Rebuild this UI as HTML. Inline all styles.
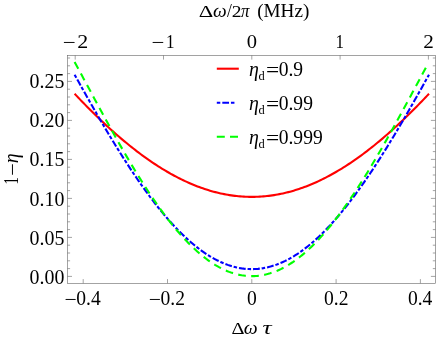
<!DOCTYPE html>
<html><head><meta charset="utf-8"><title>plot</title>
<style>
html,body{margin:0;padding:0;background:#fff;}
body{width:436px;height:339px;overflow:hidden;}
svg{display:block;will-change:transform;}
text{font-family:"Liberation Serif",serif;font-size:19.6px;fill:#000;}
.i{font-style:italic;}
</style></head><body>
<svg width="436" height="339" viewBox="0 0 436 339">
<rect width="436" height="339" fill="#fff"/>

<path d="M74.60,93.77 L76.38,95.65 L78.16,97.52 L79.94,99.38 L81.72,101.22 L83.50,103.06 L85.29,104.88 L87.07,106.68 L88.85,108.48 L90.63,110.26 L92.41,112.03 L94.19,113.78 L95.97,115.52 L97.75,117.25 L99.53,118.96 L101.31,120.66 L103.09,122.34 L104.88,124.01 L106.66,125.66 L108.44,127.30 L110.22,128.92 L112.00,130.53 L113.78,132.12 L115.56,133.70 L117.34,135.26 L119.12,136.80 L120.90,138.33 L122.68,139.84 L124.47,141.33 L126.25,142.81 L128.03,144.27 L129.81,145.71 L131.59,147.13 L133.37,148.54 L135.15,149.93 L136.93,151.30 L138.71,152.65 L140.49,153.99 L142.27,155.31 L144.06,156.61 L145.84,157.89 L147.62,159.15 L149.40,160.39 L151.18,161.61 L152.96,162.82 L154.74,164.00 L156.52,165.17 L158.30,166.32 L160.08,167.44 L161.86,168.55 L163.65,169.64 L165.43,170.71 L167.21,171.75 L168.99,172.78 L170.77,173.79 L172.55,174.77 L174.33,175.74 L176.11,176.69 L177.89,177.61 L179.67,178.52 L181.45,179.40 L183.24,180.26 L185.02,181.10 L186.80,181.92 L188.58,182.72 L190.36,183.50 L192.14,184.26 L193.92,184.99 L195.70,185.71 L197.48,186.40 L199.26,187.07 L201.04,187.72 L202.83,188.35 L204.61,188.95 L206.39,189.53 L208.17,190.10 L209.95,190.64 L211.73,191.15 L213.51,191.65 L215.29,192.12 L217.07,192.57 L218.85,193.00 L220.63,193.41 L222.42,193.79 L224.20,194.15 L225.98,194.49 L227.76,194.81 L229.54,195.10 L231.32,195.37 L233.10,195.62 L234.88,195.85 L236.66,196.05 L238.44,196.23 L240.22,196.39 L242.01,196.53 L243.79,196.64 L245.57,196.73 L247.35,196.80 L249.13,196.85 L250.91,196.87 L252.69,196.87 L254.47,196.85 L256.25,196.80 L258.03,196.73 L259.81,196.64 L261.59,196.53 L263.38,196.39 L265.16,196.23 L266.94,196.05 L268.72,195.85 L270.50,195.62 L272.28,195.37 L274.06,195.10 L275.84,194.81 L277.62,194.49 L279.40,194.15 L281.18,193.79 L282.97,193.41 L284.75,193.00 L286.53,192.57 L288.31,192.12 L290.09,191.65 L291.87,191.15 L293.65,190.64 L295.43,190.10 L297.21,189.53 L298.99,188.95 L300.77,188.35 L302.56,187.72 L304.34,187.07 L306.12,186.40 L307.90,185.71 L309.68,184.99 L311.46,184.26 L313.24,183.50 L315.02,182.72 L316.80,181.92 L318.58,181.10 L320.36,180.26 L322.15,179.40 L323.93,178.52 L325.71,177.61 L327.49,176.69 L329.27,175.74 L331.05,174.77 L332.83,173.79 L334.61,172.78 L336.39,171.75 L338.17,170.71 L339.95,169.64 L341.74,168.55 L343.52,167.44 L345.30,166.32 L347.08,165.17 L348.86,164.00 L350.64,162.82 L352.42,161.61 L354.20,160.39 L355.98,159.15 L357.76,157.89 L359.54,156.61 L361.33,155.31 L363.11,153.99 L364.89,152.65 L366.67,151.30 L368.45,149.93 L370.23,148.54 L372.01,147.13 L373.79,145.71 L375.57,144.27 L377.35,142.81 L379.13,141.33 L380.92,139.84 L382.70,138.33 L384.48,136.80 L386.26,135.26 L388.04,133.70 L389.82,132.12 L391.60,130.53 L393.38,128.92 L395.16,127.30 L396.94,125.66 L398.72,124.01 L400.51,122.34 L402.29,120.66 L404.07,118.96 L405.85,117.25 L407.63,115.52 L409.41,113.78 L411.19,112.03 L412.97,110.26 L414.75,108.48 L416.53,106.68 L418.31,104.88 L420.10,103.06 L421.88,101.22 L423.66,99.38 L425.44,97.52 L427.22,95.65 L429.00,93.77" fill="none" stroke="#ff0000" stroke-width="2.1"/>
<path d="M74.60,74.71 L76.38,77.91 L78.16,81.10 L79.94,84.29 L81.72,87.47 L83.50,90.64 L85.29,93.80 L87.07,96.95 L88.85,100.09 L90.63,103.21 L92.41,106.33 L94.19,109.43 L95.97,112.52 L97.75,115.60 L99.53,118.66 L101.31,121.71 L103.09,124.74 L104.88,127.75 L106.66,130.75 L108.44,133.73 L110.22,136.69 L112.00,139.63 L113.78,142.56 L115.56,145.46 L117.34,148.34 L119.12,151.20 L120.90,154.04 L122.68,156.86 L124.47,159.65 L126.25,162.42 L128.03,165.16 L129.81,167.88 L131.59,170.58 L133.37,173.25 L135.15,175.89 L136.93,178.50 L138.71,181.09 L140.49,183.65 L142.27,186.18 L144.06,188.68 L145.84,191.15 L147.62,193.59 L149.40,196.00 L151.18,198.37 L152.96,200.72 L154.74,203.03 L156.52,205.31 L158.30,207.56 L160.08,209.77 L161.86,211.95 L163.65,214.10 L165.43,216.21 L167.21,218.28 L168.99,220.32 L170.77,222.32 L172.55,224.28 L174.33,226.20 L176.11,228.09 L177.89,229.94 L179.67,231.75 L181.45,233.53 L183.24,235.26 L185.02,236.95 L186.80,238.61 L188.58,240.22 L190.36,241.79 L192.14,243.32 L193.92,244.81 L195.70,246.26 L197.48,247.66 L199.26,249.03 L201.04,250.35 L202.83,251.62 L204.61,252.86 L206.39,254.05 L208.17,255.20 L209.95,256.30 L211.73,257.36 L213.51,258.37 L215.29,259.34 L217.07,260.27 L218.85,261.15 L220.63,261.98 L222.42,262.77 L224.20,263.52 L225.98,264.21 L227.76,264.87 L229.54,265.47 L231.32,266.03 L233.10,266.55 L234.88,267.01 L236.66,267.43 L238.44,267.81 L240.22,268.14 L242.01,268.42 L243.79,268.65 L245.57,268.84 L247.35,268.98 L249.13,269.07 L250.91,269.12 L252.69,269.12 L254.47,269.07 L256.25,268.98 L258.03,268.84 L259.81,268.65 L261.59,268.42 L263.38,268.14 L265.16,267.81 L266.94,267.43 L268.72,267.01 L270.50,266.55 L272.28,266.03 L274.06,265.47 L275.84,264.87 L277.62,264.21 L279.40,263.52 L281.18,262.77 L282.97,261.98 L284.75,261.15 L286.53,260.27 L288.31,259.34 L290.09,258.37 L291.87,257.36 L293.65,256.30 L295.43,255.20 L297.21,254.05 L298.99,252.86 L300.77,251.62 L302.56,250.35 L304.34,249.03 L306.12,247.66 L307.90,246.26 L309.68,244.81 L311.46,243.32 L313.24,241.79 L315.02,240.22 L316.80,238.61 L318.58,236.95 L320.36,235.26 L322.15,233.53 L323.93,231.75 L325.71,229.94 L327.49,228.09 L329.27,226.20 L331.05,224.28 L332.83,222.32 L334.61,220.32 L336.39,218.28 L338.17,216.21 L339.95,214.10 L341.74,211.95 L343.52,209.77 L345.30,207.56 L347.08,205.31 L348.86,203.03 L350.64,200.72 L352.42,198.37 L354.20,196.00 L355.98,193.59 L357.76,191.15 L359.54,188.68 L361.33,186.18 L363.11,183.65 L364.89,181.09 L366.67,178.50 L368.45,175.89 L370.23,173.25 L372.01,170.58 L373.79,167.88 L375.57,165.16 L377.35,162.42 L379.13,159.65 L380.92,156.86 L382.70,154.04 L384.48,151.20 L386.26,148.34 L388.04,145.46 L389.82,142.56 L391.60,139.63 L393.38,136.69 L395.16,133.73 L396.94,130.75 L398.72,127.75 L400.51,124.74 L402.29,121.71 L404.07,118.66 L405.85,115.60 L407.63,112.52 L409.41,109.43 L411.19,106.33 L412.97,103.21 L414.75,100.09 L416.53,96.95 L418.31,93.80 L420.10,90.64 L421.88,87.47 L423.66,84.29 L425.44,81.10 L427.22,77.91 L429.00,74.71" fill="none" stroke="#0000ff" stroke-width="2.1" stroke-dasharray="3.5 2 6.74 1.9"/>
<path d="M74.60,61.97 L76.38,65.24 L78.15,68.52 L79.93,71.80 L81.71,75.09 L83.49,78.38 L85.26,81.68 L87.04,84.97 L88.82,88.27 L90.60,91.57 L92.37,94.86 L94.15,98.15 L95.93,101.44 L97.71,104.72 L99.48,107.99 L101.26,111.26 L103.04,114.51 L104.82,117.76 L106.59,121.00 L108.37,124.22 L110.15,127.44 L111.93,130.64 L113.70,133.82 L115.48,136.99 L117.26,140.14 L119.03,143.27 L120.81,146.39 L122.59,149.48 L124.37,152.56 L126.14,155.61 L127.92,158.64 L129.70,161.65 L131.48,164.64 L133.25,167.60 L135.03,170.53 L136.81,173.44 L138.59,176.32 L140.36,179.17 L142.14,181.99 L143.92,184.79 L145.70,187.55 L147.47,190.28 L149.25,192.98 L151.03,195.65 L152.81,198.28 L154.58,200.88 L156.36,203.45 L158.14,205.98 L159.91,208.47 L161.69,210.93 L163.47,213.35 L165.25,215.73 L167.02,218.07 L168.80,220.37 L170.58,222.64 L172.36,224.86 L174.13,227.04 L175.91,229.18 L177.69,231.28 L179.47,233.34 L181.24,235.35 L183.02,237.32 L184.80,239.24 L186.58,241.12 L188.35,242.96 L190.13,244.75 L191.91,246.49 L193.68,248.19 L195.46,249.84 L197.24,251.45 L199.02,253.00 L200.79,254.51 L202.57,255.97 L204.35,257.38 L206.13,258.75 L207.90,260.06 L209.68,261.32 L211.46,262.54 L213.24,263.70 L215.01,264.81 L216.79,265.87 L218.57,266.89 L220.35,267.84 L222.12,268.75 L223.90,269.61 L225.68,270.41 L227.46,271.17 L229.23,271.87 L231.01,272.52 L232.79,273.11 L234.56,273.65 L236.34,274.14 L238.12,274.58 L239.90,274.96 L241.67,275.30 L243.45,275.57 L245.23,275.80 L247.01,275.97 L248.78,276.08 L250.56,276.15 L252.34,276.16 L254.12,276.12 L255.89,276.02 L257.67,275.87 L259.45,275.67 L261.23,275.41 L263.00,275.10 L264.78,274.74 L266.56,274.32 L268.34,273.85 L270.11,273.33 L271.89,272.76 L273.67,272.13 L275.44,271.45 L277.22,270.72 L279.00,269.93 L280.78,269.10 L282.55,268.21 L284.33,267.27 L286.11,266.28 L287.89,265.24 L289.66,264.14 L291.44,263.00 L293.22,261.81 L295.00,260.56 L296.77,259.27 L298.55,257.93 L300.33,256.53 L302.11,255.09 L303.88,253.60 L305.66,252.07 L307.44,250.48 L309.22,248.85 L310.99,247.17 L312.77,245.44 L314.55,243.67 L316.32,241.85 L318.10,239.99 L319.88,238.08 L321.66,236.13 L323.43,234.13 L325.21,232.09 L326.99,230.01 L328.77,227.89 L330.54,225.72 L332.32,223.52 L334.10,221.27 L335.88,218.98 L337.65,216.65 L339.43,214.29 L341.21,211.88 L342.99,209.44 L344.76,206.96 L346.54,204.45 L348.32,201.90 L350.09,199.31 L351.87,196.69 L353.65,194.04 L355.43,191.35 L357.20,188.63 L358.98,185.88 L360.76,183.10 L362.54,180.29 L364.31,177.44 L366.09,174.58 L367.87,171.68 L369.65,168.75 L371.42,165.81 L373.20,162.83 L374.98,159.83 L376.76,156.81 L378.53,153.76 L380.31,150.70 L382.09,147.61 L383.87,144.50 L385.64,141.38 L387.42,138.23 L389.20,135.07 L390.97,131.89 L392.75,128.70 L394.53,125.49 L396.31,122.27 L398.08,119.04 L399.86,115.79 L401.64,112.54 L403.42,109.28 L405.19,106.01 L406.97,102.73 L408.75,99.44 L410.53,96.16 L412.30,92.86 L414.08,89.57 L415.86,86.27 L417.64,82.98 L419.41,79.68 L421.19,76.39 L422.97,73.10 L424.75,69.81 L426.52,66.53 L428.30,63.26" fill="none" stroke="#00ff00" stroke-width="2.1" stroke-dasharray="7.68 5.38"/>
<g stroke="#666666" stroke-width="0.6" fill="none">
<rect x="67.5" y="55.4" width="367.90" height="227.90"/>
<line x1="83.20" y1="283.3" x2="83.20" y2="279.1"/>
<line x1="167.50" y1="283.3" x2="167.50" y2="279.1"/>
<line x1="251.80" y1="283.3" x2="251.80" y2="279.1"/>
<line x1="336.10" y1="283.3" x2="336.10" y2="279.1"/>
<line x1="420.40" y1="283.3" x2="420.40" y2="279.1"/>
<line x1="75.20" y1="55.4" x2="75.20" y2="59.6"/>
<line x1="163.50" y1="55.4" x2="163.50" y2="59.6"/>
<line x1="251.80" y1="55.4" x2="251.80" y2="59.6"/>
<line x1="340.10" y1="55.4" x2="340.10" y2="59.6"/>
<line x1="428.40" y1="55.4" x2="428.40" y2="59.6"/>
<line x1="67.5" y1="276.40" x2="72.0" y2="276.40"/>
<line x1="435.4" y1="276.40" x2="430.9" y2="276.40"/>
<line x1="67.5" y1="268.60" x2="70.1" y2="268.60"/>
<line x1="435.4" y1="268.60" x2="432.79999999999995" y2="268.60"/>
<line x1="67.5" y1="260.80" x2="70.1" y2="260.80"/>
<line x1="435.4" y1="260.80" x2="432.79999999999995" y2="260.80"/>
<line x1="67.5" y1="253.00" x2="70.1" y2="253.00"/>
<line x1="435.4" y1="253.00" x2="432.79999999999995" y2="253.00"/>
<line x1="67.5" y1="245.20" x2="70.1" y2="245.20"/>
<line x1="435.4" y1="245.20" x2="432.79999999999995" y2="245.20"/>
<line x1="67.5" y1="237.40" x2="72.0" y2="237.40"/>
<line x1="435.4" y1="237.40" x2="430.9" y2="237.40"/>
<line x1="67.5" y1="229.60" x2="70.1" y2="229.60"/>
<line x1="435.4" y1="229.60" x2="432.79999999999995" y2="229.60"/>
<line x1="67.5" y1="221.80" x2="70.1" y2="221.80"/>
<line x1="435.4" y1="221.80" x2="432.79999999999995" y2="221.80"/>
<line x1="67.5" y1="214.00" x2="70.1" y2="214.00"/>
<line x1="435.4" y1="214.00" x2="432.79999999999995" y2="214.00"/>
<line x1="67.5" y1="206.20" x2="70.1" y2="206.20"/>
<line x1="435.4" y1="206.20" x2="432.79999999999995" y2="206.20"/>
<line x1="67.5" y1="198.40" x2="72.0" y2="198.40"/>
<line x1="435.4" y1="198.40" x2="430.9" y2="198.40"/>
<line x1="67.5" y1="190.60" x2="70.1" y2="190.60"/>
<line x1="435.4" y1="190.60" x2="432.79999999999995" y2="190.60"/>
<line x1="67.5" y1="182.80" x2="70.1" y2="182.80"/>
<line x1="435.4" y1="182.80" x2="432.79999999999995" y2="182.80"/>
<line x1="67.5" y1="175.00" x2="70.1" y2="175.00"/>
<line x1="435.4" y1="175.00" x2="432.79999999999995" y2="175.00"/>
<line x1="67.5" y1="167.20" x2="70.1" y2="167.20"/>
<line x1="435.4" y1="167.20" x2="432.79999999999995" y2="167.20"/>
<line x1="67.5" y1="159.40" x2="72.0" y2="159.40"/>
<line x1="435.4" y1="159.40" x2="430.9" y2="159.40"/>
<line x1="67.5" y1="151.60" x2="70.1" y2="151.60"/>
<line x1="435.4" y1="151.60" x2="432.79999999999995" y2="151.60"/>
<line x1="67.5" y1="143.80" x2="70.1" y2="143.80"/>
<line x1="435.4" y1="143.80" x2="432.79999999999995" y2="143.80"/>
<line x1="67.5" y1="136.00" x2="70.1" y2="136.00"/>
<line x1="435.4" y1="136.00" x2="432.79999999999995" y2="136.00"/>
<line x1="67.5" y1="128.20" x2="70.1" y2="128.20"/>
<line x1="435.4" y1="128.20" x2="432.79999999999995" y2="128.20"/>
<line x1="67.5" y1="120.40" x2="72.0" y2="120.40"/>
<line x1="435.4" y1="120.40" x2="430.9" y2="120.40"/>
<line x1="67.5" y1="112.60" x2="70.1" y2="112.60"/>
<line x1="435.4" y1="112.60" x2="432.79999999999995" y2="112.60"/>
<line x1="67.5" y1="104.80" x2="70.1" y2="104.80"/>
<line x1="435.4" y1="104.80" x2="432.79999999999995" y2="104.80"/>
<line x1="67.5" y1="97.00" x2="70.1" y2="97.00"/>
<line x1="435.4" y1="97.00" x2="432.79999999999995" y2="97.00"/>
<line x1="67.5" y1="89.20" x2="70.1" y2="89.20"/>
<line x1="435.4" y1="89.20" x2="432.79999999999995" y2="89.20"/>
<line x1="67.5" y1="81.40" x2="72.0" y2="81.40"/>
<line x1="435.4" y1="81.40" x2="430.9" y2="81.40"/>
<line x1="67.5" y1="73.60" x2="70.1" y2="73.60"/>
<line x1="435.4" y1="73.60" x2="432.79999999999995" y2="73.60"/>
<line x1="67.5" y1="65.80" x2="70.1" y2="65.80"/>
<line x1="435.4" y1="65.80" x2="432.79999999999995" y2="65.80"/>
<line x1="67.5" y1="58.00" x2="70.1" y2="58.00"/>
<line x1="435.4" y1="58.00" x2="432.79999999999995" y2="58.00"/>
</g>
<text transform="translate(29.54,283.90) scale(1.015,1.020)" style="font-size:19.6px">0.00</text>
<text transform="translate(29.54,244.75) scale(1.015,1.020)" style="font-size:19.6px">0.05</text>
<text transform="translate(29.54,205.60) scale(1.015,1.020)" style="font-size:19.6px">0.10</text>
<text transform="translate(29.54,166.45) scale(1.015,1.020)" style="font-size:19.6px">0.15</text>
<text transform="translate(29.54,127.30) scale(1.015,1.020)" style="font-size:19.6px">0.20</text>
<text transform="translate(29.54,88.15) scale(1.015,1.020)" style="font-size:19.6px">0.25</text>
<text transform="translate(64.42,306.00) scale(1.107,1.020)" style="font-size:19.6px">−</text>
<text transform="translate(76.25,305.00) scale(1.000,1.020)" style="font-size:19.6px">0.4</text>
<text transform="translate(148.72,306.00) scale(1.107,1.020)" style="font-size:19.6px">−</text>
<text transform="translate(160.55,305.00) scale(1.000,1.020)" style="font-size:19.6px">0.2</text>
<text transform="translate(246.90,305.00) scale(1.000,1.020)" style="font-size:19.6px">0</text>
<text transform="translate(324.02,305.00) scale(1.000,1.020)" style="font-size:19.6px">0.2</text>
<text transform="translate(407.93,305.00) scale(1.000,1.020)" style="font-size:19.6px">0.4</text>
<text transform="translate(62.75,49.30) scale(1.173,1.020)" style="font-size:19.6px">−</text>
<text transform="translate(77.24,47.80) scale(1.120,0.980)" style="font-size:19.6px">2</text>
<text transform="translate(151.47,49.30) scale(1.162,1.020)" style="font-size:19.6px">−</text>
<text transform="translate(166.00,47.80) scale(0.870,0.980)" style="font-size:19.6px">1</text>
<text transform="translate(246.75,47.80) scale(1.050,0.980)" style="font-size:19.6px">0</text>
<text transform="translate(335.40,47.80) scale(0.870,0.980)" style="font-size:19.6px">1</text>
<text transform="translate(423.23,47.80) scale(1.080,0.980)" style="font-size:19.6px">2</text>
<text transform="translate(198.74,17.20) scale(1.151,0.890)" style="font-size:19.6px">Δ</text>
<text class="i" transform="translate(213.06,17.20) scale(0.990,0.970)" style="font-size:19.6px">ω</text>
<text transform="translate(227.00,17.20) scale(0.900,0.930)" style="font-size:19.6px">/</text>
<text transform="translate(231.74,17.20) scale(1.000,0.900)" style="font-size:19.6px">2</text>
<text class="i" transform="translate(241.11,17.20) scale(0.856,0.970)" style="font-size:19.6px">π</text>
<text transform="translate(257.16,17.20) scale(0.978,0.950)" style="font-size:19.6px">(MHz)</text>
<text transform="translate(231.53,334.00) scale(1.034,0.900)" style="font-size:19.6px">Δ</text>
<text class="i" transform="translate(243.65,334.00) scale(1.006,0.950)" style="font-size:19.6px">ω</text>
<text class="i" transform="translate(262.44,334.00) scale(1.296,0.930)" style="font-size:19.6px">τ</text>
<g transform="translate(17.9,183.9) rotate(-90)">
<text transform="translate(-0.50,0.00) scale(0.754,1.020)" style="font-size:19.6px">1</text>
<text transform="translate(8.09,1.00) scale(1.140,1.020)" style="font-size:19.6px">−</text>
<text class="i" transform="translate(20.69,0.00) scale(1.023,1.020)" style="font-size:19.6px">η</text>
</g>
<line x1="216.8" y1="68.70" x2="238.8" y2="68.70" stroke="#ff0000" stroke-width="2.1"/>
<text class="i" transform="translate(248.89,75.70) scale(1.011,1.020)" style="font-size:19.6px">η</text>
<text transform="translate(258.55,79.90) scale(1.000,1.020)" style="font-size:12.5px">d</text>
<text transform="translate(265.93,77.10) scale(1.195,1.020)" style="font-size:19.6px">=</text>
<text transform="translate(278.65,75.70) scale(1.000,1.020)" style="font-size:19.6px">0.9</text>
<line x1="216.8" y1="102.70" x2="234.5" y2="102.70" stroke="#0000ff" stroke-width="2.1" stroke-dasharray="3.5 2 6.74 1.9"/>
<text class="i" transform="translate(248.89,109.70) scale(1.011,1.020)" style="font-size:19.6px">η</text>
<text transform="translate(258.55,113.90) scale(1.000,1.020)" style="font-size:12.5px">d</text>
<text transform="translate(265.93,111.10) scale(1.195,1.020)" style="font-size:19.6px">=</text>
<text transform="translate(278.65,109.70) scale(1.000,1.020)" style="font-size:19.6px">0.99</text>
<line x1="216.8" y1="136.70" x2="238.8" y2="136.70" stroke="#00ff00" stroke-width="2.1" stroke-dasharray="8 5.2"/>
<text class="i" transform="translate(248.89,143.70) scale(1.011,1.020)" style="font-size:19.6px">η</text>
<text transform="translate(258.55,147.90) scale(1.000,1.020)" style="font-size:12.5px">d</text>
<text transform="translate(265.93,145.10) scale(1.195,1.020)" style="font-size:19.6px">=</text>
<text transform="translate(278.65,143.70) scale(1.000,1.020)" style="font-size:19.6px">0.999</text>
</svg></body></html>
